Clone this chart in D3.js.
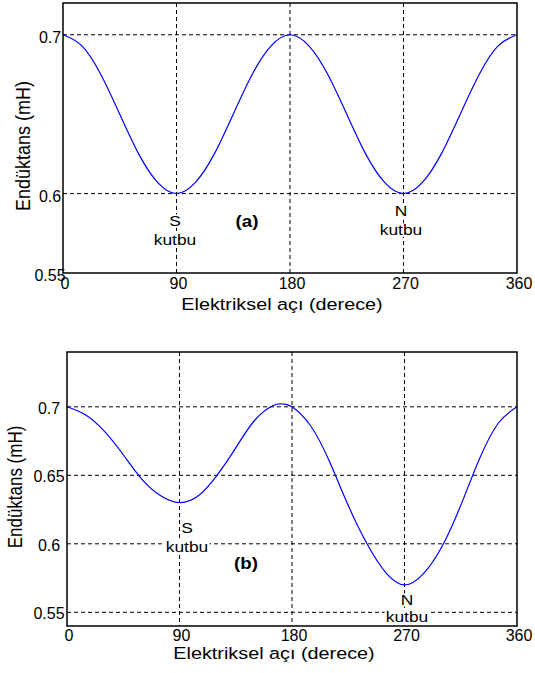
<!DOCTYPE html>
<html>
<head>
<meta charset="utf-8">
<script src="https://cdn.jsdelivr.net/npm/d3@7"></script>
<style>
  body { margin: 0; background: #fff; }
  svg { display: block; font-family: "Liberation Sans", Arial, sans-serif; }
</style>
</head>
<body>
<svg id="chart" width="535" height="673"></svg>
<script>
// ---- data ----
const angleTicks = [0, 90, 180, 270, 360];

// (a) symmetric case
const aAngles = [0, 15, 30, 45, 60, 75, 90, 105, 120, 135, 150, 165, 180, 195, 210, 225, 240, 255, 270, 285, 300, 315, 330, 345, 360];
const aValues = [0.700, 0.693, 0.675, 0.650, 0.625, 0.607, 0.600, 0.607, 0.625, 0.650, 0.675, 0.693, 0.700, 0.693, 0.675, 0.650, 0.625, 0.607, 0.600, 0.607, 0.625, 0.650, 0.675, 0.693, 0.700];
const aYTicks = [0.55, 0.6, 0.7];
const aYGrid = [0.6, 0.7];

// (b) unbalanced case
const bAngles = [0, 15, 30, 45, 60, 75, 90, 105, 120, 135, 150, 165, 173, 180, 195, 210, 225, 240, 255, 270, 285, 300, 315, 330, 345, 360];
const bValues = [0.700, 0.694, 0.682, 0.665, 0.647, 0.635, 0.630, 0.635, 0.650, 0.670, 0.690, 0.701, 0.702, 0.700, 0.686, 0.660, 0.628, 0.600, 0.579, 0.570, 0.578, 0.598, 0.628, 0.662, 0.688, 0.700];
const bYTicks = [0.55, 0.6, 0.65, 0.7];
const bYGrid = [0.55, 0.6, 0.65, 0.7];

const xTitle = "Elektriksel açı (derece)";
const yTitle = "Endüktans (mH)";

const svg = d3.select("#chart");

// text helper: optional horizontal stretch + white box behind
function label(g, x, y, text, opts = {}) {
    const t = g.append("g").attr("transform", `translate(${x},${y}) scale(${opts.sx || 1},1)${opts.rotate ? " rotate(" + opts.rotate + ")" : ""}`);
    const el = t.append("text")
        .attr("text-anchor", opts.anchor || "middle")
        .attr("font-size", opts.size || 16)
        .attr("font-weight", opts.bold ? "bold" : "normal")
        .attr("fill", "#000")
        .text(text);
    if (opts.bg) {
        const b = el.node().getBBox();
        t.insert("rect", "text").attr("x", b.x - 1).attr("y", b.y + 1)
            .attr("width", b.width + 2).attr("height", b.height - 2).attr("fill", "#fff");
    }
    return t;
}

function drawPanel(p) {
    const x = d3.scaleLinear().domain([0, 360]).range([p.left, p.right]);
    const y = d3.scaleLinear().domain(p.yDomain).range([p.bottom, p.top]);
    const g = svg.append("g");

    // dashed grid
    g.append("g").selectAll("line").data(p.yGrid).join("line")
        .attr("x1", p.left).attr("x2", p.right)
        .attr("y1", d => y(d)).attr("y2", d => y(d))
        .attr("stroke", "#000").attr("stroke-width", 1).attr("stroke-dasharray", "4,3");
    g.append("g").selectAll("line").data(angleTicks.slice(1, -1)).join("line")
        .attr("x1", d => x(d)).attr("x2", d => x(d))
        .attr("y1", p.top).attr("y2", p.bottom)
        .attr("stroke", "#000").attr("stroke-width", 1).attr("stroke-dasharray", "4,3");

    // curve
    const line = d3.line().x((d, i) => x(p.angles[i])).y(d => y(d)).curve(d3.curveNatural);
    g.append("path").datum(p.values).attr("d", line)
        .attr("fill", "none").attr("stroke", "#0000ff").attr("stroke-width", 1.2);

    // annotations
    p.notes.forEach(n => {
        n.lines.forEach((s, i) => label(g, n.x, n.y + i * n.lh, s, { size: n.size, bold: n.bold, sx: n.sx, bg: true }));
    });

    // frame
    g.append("rect").attr("x", p.left).attr("y", p.top)
        .attr("width", p.right - p.left).attr("height", p.bottom - p.top)
        .attr("fill", "none").attr("stroke", "#000").attr("stroke-width", 1.5);

    // tick labels
    angleTicks.forEach(v => label(g, x(v) + 2, p.xTickY, String(v), { size: 16 }));
    p.yTicks.forEach(v => label(g, p.yTickX, y(v) + p.yTickDy, String(v), { size: 16 }));

    // axis titles
    label(g, p.xTitleX, p.xTitleY, xTitle, { size: 16.5, sx: 1.2 });
    label(g, p.yTitleX, p.yTitleY, yTitle, { size: p.yTitleSize, sx: 1.15, rotate: -90, anchor: "middle" })
        .select("text").attr("dy", "0.35em");
}

drawPanel({
    left: 63, right: 517, top: 3, bottom: 273, yDomain: [0.55, 0.72],
    angles: aAngles, values: aValues, yTicks: aYTicks, yGrid: aYGrid,
    xTickY: 289, yTickX: 50, yTickDy: 8,
    xTitleX: 282, xTitleY: 310, yTitleX: 23, yTitleY: 146, yTitleSize: 18,
    notes: [
        { x: 175, y: 226, lh: 19, lines: ["S", "kutbu"], size: 14.5, sx: 1.2 },
        { x: 401, y: 216, lh: 19, lines: ["N", "kutbu"], size: 14.5, sx: 1.2 },
        { x: 247, y: 227, lh: 0, lines: ["(a)"], size: 17, bold: true, sx: 1.1 }
    ]
});

drawPanel({
    left: 67, right: 517, top: 352, bottom: 626, yDomain: [0.54, 0.74],
    angles: bAngles, values: bValues, yTicks: bYTicks, yGrid: bYGrid,
    xTickY: 641, yTickX: 49, yTickDy: 7,
    xTitleX: 274, xTitleY: 659, yTitleX: 15, yTitleY: 487, yTitleSize: 17,
    notes: [
        { x: 187, y: 533, lh: 19, lines: ["S", "kutbu"], size: 14.5, sx: 1.2 },
        { x: 407, y: 605, lh: 17, lines: ["N", "kutbu"], size: 14.5, sx: 1.2 },
        { x: 246, y: 569, lh: 0, lines: ["(b)"], size: 17, bold: true, sx: 1.1 }
    ]
});
</script>
</body>
</html>
